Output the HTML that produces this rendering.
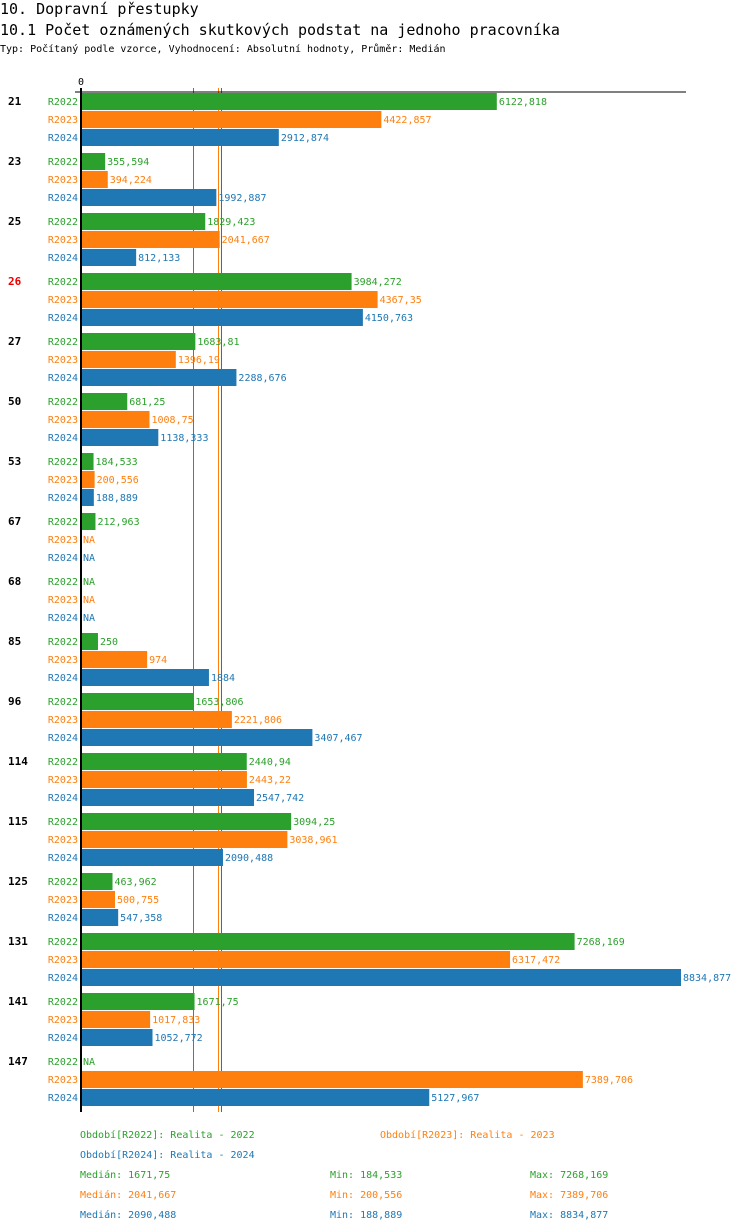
<!DOCTYPE html>
<html><head><meta charset="utf-8"><style>
body{margin:0;background:#fff;width:750px;height:1232px;overflow:hidden;font-family:"DejaVu Sans Mono","Liberation Mono",monospace}
.t{position:absolute;white-space:nowrap}
</style></head><body>
<div class="t" style="left:0;top:0;font-size:15px">10. Dopravní přestupky</div>
<div class="t" style="left:0;top:21px;font-size:15px">10.1 Počet oznámených skutkových podstat na jednoho pracovníka</div>
<div class="t" style="left:0;top:44px;font-size:10px">Typ: Počítaný podle vzorce, Vyhodnocení: Absolutní hodnoty, Průměr: Medián</div>
<svg id="c" width="750" height="1232" style="position:absolute;left:0;top:0" font-family="DejaVu Sans Mono, Liberation Mono, monospace"></svg>
<script>
const categories=["21","23","25","26","27","50","53","67","68","85","96","114","115","125","131","141","147"];
const r2022=[6122.818,355.594,1829.423,3984.272,1683.81,681.25,184.533,212.963,null,250,1653.806,2440.94,3094.25,463.962,7268.169,1671.75,null];
const r2023=[4422.857,394.224,2041.667,4367.35,1396.19,1008.75,200.556,null,null,974,2221.806,2443.22,3038.961,500.755,6317.472,1017.833,7389.706];
const r2024=[2912.874,1992.887,812.133,4150.763,2288.676,1138.333,188.889,null,null,1884,3407.467,2547.742,2090.488,547.358,8834.877,1052.772,5127.967];
const labels2022=["6122,818","355,594","1829,423","3984,272","1683,81","681,25","184,533","212,963","NA","250","1653,806","2440,94","3094,25","463,962","7268,169","1671,75","NA"];
const labels2023=["4422,857","394,224","2041,667","4367,35","1396,19","1008,75","200,556","NA","NA","974","2221,806","2443,22","3038,961","500,755","6317,472","1017,833","7389,706"];
const labels2024=["2912,874","1992,887","812,133","4150,763","2288,676","1138,333","188,889","NA","NA","1884","3407,467","2547,742","2090,488","547,358","8834,877","1052,772","5127,967"];
const medians=[1671.75,2041.667,2090.488];
const colors=["#2ca02c","#ff7f0e","#1f77b4"];
const seriesNames=["R2022","R2023","R2024"];
const X0=81,maxV=8834.877,W=600;
const x=v=>X0+v/maxV*W;
const gy=i=>92+60*i;
const svg=document.getElementById('c');
const NS="http://www.w3.org/2000/svg";
function mk(t,a,txt){const e=document.createElementNS(NS,t);for(const k in a)e.setAttribute(k,a[k]);if(txt!=null)e.textContent=txt;svg.appendChild(e);return e;}
let e;
medians.forEach((m,s)=>{
  const lx=Math.floor(x(m))-0.5;
  e=mk('line',{x1:lx,y1:88,x2:lx,y2:1112,stroke:colors[s],'stroke-width':1});
  
  
});
e=mk('line',{x1:75,y1:92,x2:686,y2:92,stroke:'#000','stroke-width':1});


e=mk('text',{x:78,y:85,'font-size':10},'0');


const data=[r2022,r2023,r2024],labs=[labels2022,labels2023,labels2024];
categories.forEach((c,i)=>{
  e=mk('text',{x:8,y:gy(i)+13,'font-size':11,'font-weight':'bold',fill:c==="26"?"#e00":"#000"},c);
  
  
  for(let s=0;s<3;s++){
    const y=gy(i)+18*s,v=data[s][i];
    e=mk('text',{x:78,y:y+13,'font-size':10,fill:colors[s],'text-anchor':'end'},seriesNames[s]);
    
    
    let end=X0+2;
    if(v!=null){
      e=mk('rect',{x:X0,y:y+1,width:x(v)-X0,height:17,fill:colors[s]});
      
      
      end=x(v)+2;
    }
    e=mk('text',{x:end,y:y+13,'font-size':10,fill:colors[s]},labs[s][i]);
    
    
  }
});
e=mk('line',{x1:X0,y1:88,x2:X0,y2:1112,stroke:'#000','stroke-width':2});


const leg=[[80,1138,"Období[R2022]: Realita - 2022",0],[380,1138,"Období[R2023]: Realita - 2023",1],[80,1158,"Období[R2024]: Realita - 2024",2]];
leg.forEach(l=>{e=mk('text',{x:l[0],y:l[1],'font-size':10,fill:colors[l[3]]},l[2]);

});
const mins=["184,533","200,556","188,889"],maxs=["7268,169","7389,706","8834,877"],meds=["1671,75","2041,667","2090,488"];
for(let s=0;s<3;s++){const y=1178+20*s;
e=mk('text',{x:80,y:y,'font-size':10,fill:colors[s]},"Medián: "+meds[s]);


e=mk('text',{x:330,y:y,'font-size':10,fill:colors[s]},"Min: "+mins[s]);


e=mk('text',{x:530,y:y,'font-size':10,fill:colors[s]},"Max: "+maxs[s]);

}
</script>
</body></html>
